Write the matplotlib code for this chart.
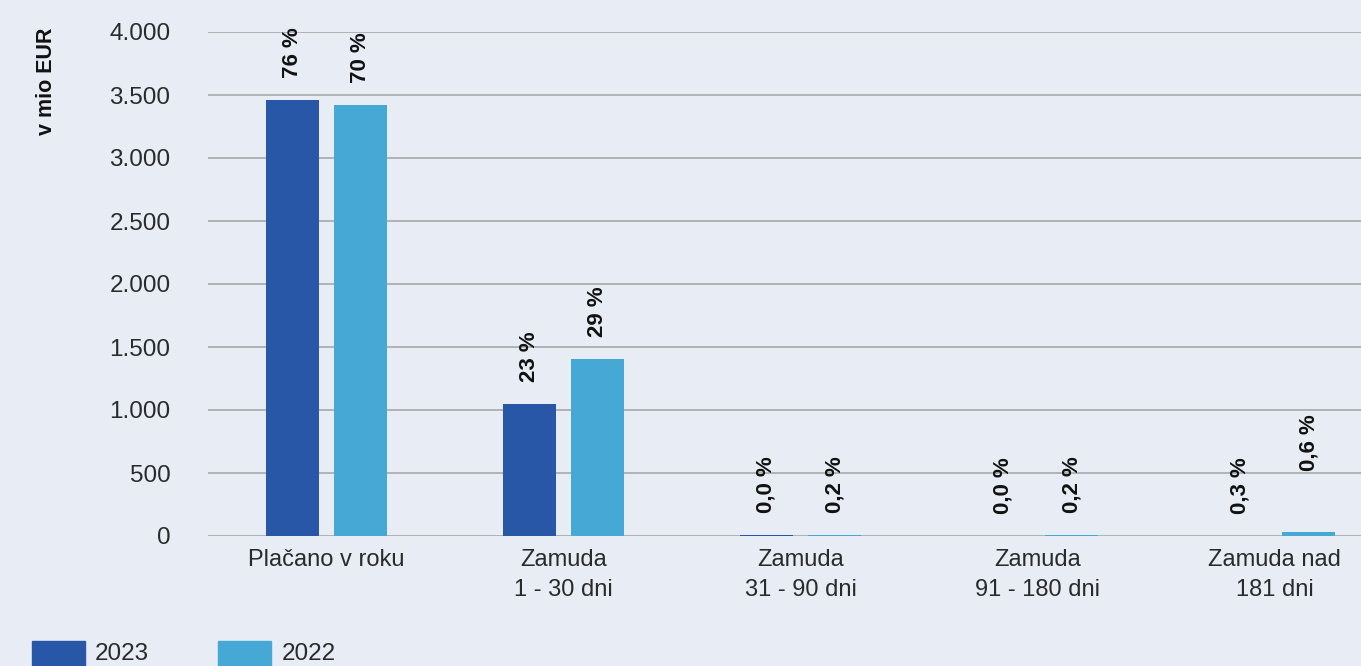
import matplotlib
matplotlib.use("Agg")
import matplotlib.pyplot as plt  # noqa: E402
import numpy as np  # noqa: E402
from matplotlib.patches import Rectangle  # noqa: E402

categories = ["Plačano v roku", "Zamuda\n1 - 30 dni", "Zamuda\n31 - 90 dni",
              "Zamuda\n91 - 180 dni", "Zamuda nad\n181 dni"]
years = ["2023", "2022"]
values_2023 = [3460, 1048, 8, 1, 2]
values_2022 = [3421, 1405, 8, 8, 30]
shares_2023 = ["76 %", "23 %", "0,0 %", "0,0 %", "0,3 %"]
shares_2022 = ["70 %", "29 %", "0,2 %", "0,2 %", "0,6 %"]
yticks = [0, 500, 1000, 1500, 2000, 2500, 3000, 3500, 4000]
ytick_labels = ["0", "500", "1.000", "1.500", "2.000", "2.500", "3.000",
                "3.500", "4.000"]

BG = "#e8ecf5"
COLORS = ["#2857a7", "#46a8d5"]
TEXT = "#2a2a2a"

plt.rcParams["font.family"] = ["Liberation Sans", "DejaVu Sans"]

W, H = 1361, 666
fig = plt.figure(figsize=(W / 100, H / 100), dpi=100, facecolor=BG)
ax = fig.add_axes([208 / W, 130 / H, (W - 208) / W, 504 / H], facecolor=BG)

x = np.arange(len(categories))
width = 0.224
offset = 0.1435
series = [(values_2023, shares_2023), (values_2022, shares_2022)]
for i, (vals, shares) in enumerate(series):
    xs = x + (offset if i else -offset)
    ax.bar(xs, vals, width=width, color=COLORS[i], zorder=3)
    for j, (xv, v, s) in enumerate(zip(xs, vals, shares)):
        extra = 28 if (i == 1 and j == 4) else 0
        ax.annotate(s, (xv, v), xytext=(0, 16 + extra),
                    textcoords="offset points", rotation=90,
                    ha="center", va="bottom", fontsize=16,
                    fontweight="bold", color="#111111")

ax.set_xlim(-0.5, (W - 208) / 237 - 0.5)
ax.set_ylim(0, 4000)
ax.set_yticks(yticks)
ax.set_yticklabels(ytick_labels)
ax.set_xticks(x)
ax.set_xticklabels(categories, linespacing=1.5)
ax.tick_params(axis="y", length=0, pad=27, labelsize=17.5, labelcolor=TEXT)
ax.tick_params(axis="x", length=0, pad=9, labelsize=17, labelcolor=TEXT)
ax.grid(axis="y", color="#a8a8a8", linewidth=1.2, zorder=0)
for sp in ax.spines.values():
    sp.set_visible(False)

fig.text(47 / W, 1 - 28 / H, "v mio EUR", rotation=90, ha="center",
         va="top", fontsize=15.5, fontweight="bold", color="#111111")

# legend drawn by hand, partly cut at the bottom as in the original
for k, (lx, tx) in enumerate([(32, 95), (218, 282)]):
    fig.patches.append(Rectangle((lx / W, -5 / H), 53 / W, 30 / H,
                                 transform=fig.transFigure,
                                 color=COLORS[k]))
    fig.text(tx / W, 1 - 654 / H, years[k], ha="left", va="center",
             fontsize=17.5, color=TEXT)

fig.savefig("out.png", dpi=100, facecolor=BG)
